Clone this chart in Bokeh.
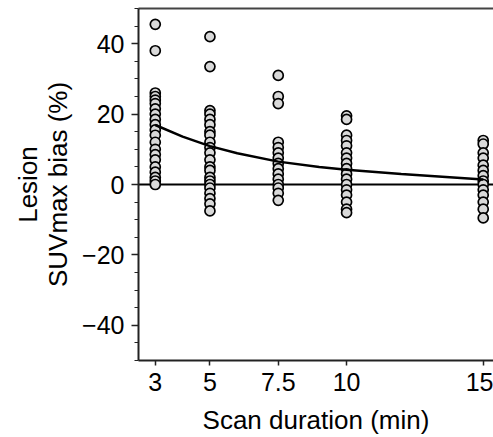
from bokeh.plotting import figure
from bokeh.models import Range1d, FixedTicker, LinearAxis, SingleIntervalTicker
from bokeh.embed import file_html
from bokeh.resources import INLINE

# ---- data ----
dur_3 = [45.5, 38, 26, 25, 24, 23, 21.5, 20, 18.5, 17, 15.5, 14, 12, 10, 8.5, 7, 5, 3.5, 2, 1, 0]
dur_5 = [42, 33.5, 21, 20, 18.5, 17, 15, 14, 12, 10.5, 9, 7, 5, 4, 2, 1, 0, -1, -2.5, -4, -5.5, -7.5]
dur_7_5 = [31, 25, 23, 12, 10.5, 9, 7.5, 6, 4.5, 3, 1.5, 0, -1, -2.5, -4.5]
dur_10 = [19.5, 18.5, 14, 12.5, 11, 9, 7.5, 6, 4.5, 3, 1.5, 0, -1.5, -3, -5, -7, -8]
dur_15 = [12.5, 11.5, 9, 7.5, 5.5, 4, 2.5, 1, 0, -1.5, -3, -5, -7, -9.5]

durations = [3, 5, 7.5, 10, 15]
series = [dur_3, dur_5, dur_7_5, dur_10, dur_15]

fit_x = [3, 4, 5, 6, 7.5, 9, 10, 12, 15]
fit_y = [16.9, 13.6, 10.9, 8.9, 6.5, 5.0, 4.2, 3.0, 1.4]

x_ticks = [3, 5, 7.5, 10, 15]
x_tick_labels = {3: "3", 5: "5", 7.5: "7.5", 10: "10", 15: "15"}
y_tick_labels = {-40: "\u221240", -20: "\u221220", 0: "0", 20: "20", 40: "40"}

xs, ys = [], []
for d, vals in zip(durations, series):
    xs += [d] * len(vals)
    ys += vals

FONT = "Liberation Sans"
X0, X1 = 2.386, 15.376

p = figure(width=493, height=437, output_backend="svg", toolbar_location=None,
           x_range=Range1d(X0, X1), y_range=Range1d(-50, 50),
           min_border_left=138, min_border_right=0, min_border_top=8,
           min_border_bottom=75, background_fill_color="white",
           border_fill_color="white", outline_line_color=None)
p.grid.visible = False

# zero line
p.line([X0, X1], [0, 0], line_color="black", line_width=2)
# points
p.scatter(xs, ys, size=10, marker="circle", fill_color="#d9d9d9",
          line_color="black", line_width=1.7)
# fit curve
p.line(fit_x, fit_y, line_color="black", line_width=2.5)

xa = p.xaxis[0]
xa.ticker = FixedTicker(ticks=x_ticks)
xa.major_label_overrides = x_tick_labels
xa.major_tick_out = 5
xa.major_tick_in = 0
xa.major_label_standoff = 7
xa.axis_label = "Scan duration (min)"
xa.axis_label_standoff = 11

ya = p.yaxis[0]
ya.ticker = SingleIntervalTicker(interval=20, num_minor_ticks=4)
ya.major_label_overrides = y_tick_labels
ya.major_tick_out = 7
ya.major_tick_in = 0
ya.minor_tick_out = 4
ya.minor_tick_in = 0
ya.major_label_standoff = 7
ya.axis_label = "Lesion\nSUVmax bias (%)"
ya.axis_label_standoff = 6
ya.axis_label_text_line_height = 1.0

for ax in (xa, ya):
    ax.axis_line_width = 2
    ax.axis_line_color = "#222222"
    ax.major_tick_line_color = "#222222"
    ax.major_tick_line_width = 1.5
    ax.minor_tick_line_color = "#222222" if ax is ya else None
    ax.major_label_text_font = FONT
    ax.major_label_text_font_size = "25px"
    ax.major_label_text_color = "black"
    ax.axis_label_text_font = FONT
    ax.axis_label_text_font_size = "26px"
    ax.axis_label_text_font_style = "normal"
    ax.axis_label_text_color = "black"

top = LinearAxis(ticker=FixedTicker(ticks=[]), axis_line_width=2,
                 axis_line_color="#444444", major_tick_line_color=None,
                 minor_tick_line_color=None, major_label_text_font_size="0px",
                 major_label_standoff=0)
p.add_layout(top, "above")

open("out.html", "w").write(file_html(p, INLINE))
